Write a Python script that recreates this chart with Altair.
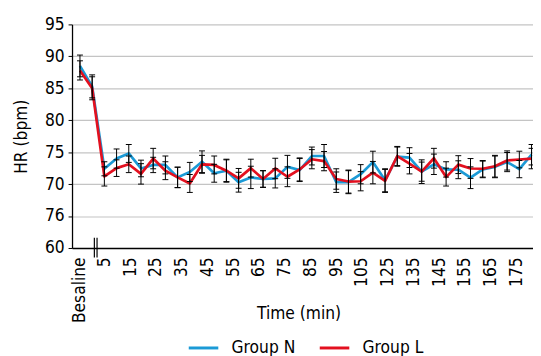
import altair as alt
import pandas as pd

# ---- data ----
slots = list(range(38))  # 0 = Besaline, 1 = break, 2 = 5 min, 3 = 10 min, ...

hr_group_n = [88.5, 85.3, 72.4, 74.0, 74.8, 72.45, 73.0, 73.0, 71.05, 71.9,
              73.5, 71.7, 72.1, 70.3, 71.05, 70.8, 70.9, 72.7, 72.2, 74.4,
              74.4, 70.3, 70.3, 71.55, 73.45, 70.6, 74.3, 74.15, 71.95, 73.1,
              72.3, 72.25, 71.0, 72.3, 72.7, 73.45, 72.35, 74.6]
hr_group_l = [87.8, 85.0, 71.2, 72.5, 73.1, 71.6, 74.0, 72.1, 71.05, 70.1,
              73.1, 73.0, 72.1, 70.9, 72.5, 70.8, 72.45, 71.15, 72.3, 73.9,
              73.6, 70.8, 70.4, 70.45, 71.8, 70.5, 74.4, 73.2, 71.95, 74.05,
              71.1, 73.05, 72.45, 72.4, 72.8, 73.7, 73.85, 74.0]
sd_group_n = [1.7, 1.8, 1.1, 1.5, 1.4, 1.3, 1.2, 1.4, 1.6, 1.5,
              1.7, 1.4, 1.8, 1.55, 1.75, 1.3, 1.5, 1.8, 1.8, 1.4,
              1.8, 1.6, 1.8, 1.5, 1.7, 1.8, 1.5, 1.55, 1.5, 1.6,
              1.2, 1.4, 1.7, 1.3, 1.7, 1.5, 1.35, 1.6]
sd_group_l = [1.5, 1.8, 1.5, 1.3, 1.3, 1.6, 1.6, 1.4, 1.6, 1.4,
              1.4, 1.4, 1.7, 1.55, 1.4, 1.3, 1.6, 1.55, 1.8, 1.5,
              1.5, 1.6, 1.8, 1.5, 1.75, 1.8, 1.5, 1.6, 1.85, 1.55,
              1.4, 1.4, 1.55, 1.3, 1.7, 1.5, 1.3, 1.6]

tick_labels = ["Besaline", "5", "15", "25", "35", "45", "55", "65", "75", "85",
               "95", "105", "125", "135", "145", "155", "165", "175"]
y_tick_values = [60, 65, 70, 75, 80, 85, 90, 95]
y_tick_labels = ["60", "76", "70", "75", "80", "85", "90", "95"]

groups = ["Group N", "Group L"]
colors = ["#1b9ad6", "#e3101f"]

# axis-break marker position (slot units) and its vertical extent (bpm units)
break_slots = [1.18, 1.40]
break_lo, break_hi = 58.5, 61.6

FONT = "DejaVu Sans Condensed, DejaVu Sans, sans-serif"
FS = 17.5

# ---- build tables ----
tick_pos = [0.0] + [round(2 + 2.11 * k, 2) for k in range(len(tick_labels) - 1)]

rows = []
for g, vals, sds in (("Group N", hr_group_n, sd_group_n),
                     ("Group L", hr_group_l, sd_group_l)):
    for s, v, e in zip(slots, vals, sds):
        rows.append({"slot": s, "group": g, "hr": v,
                     "lo": round(v - e, 3), "hi": round(v + e, 3)})
df = pd.DataFrame(rows)
break_df = pd.DataFrame({"slot": break_slots,
                         "lo": [break_lo] * len(break_slots),
                         "hi": [break_hi] * len(break_slots)})

x_label_expr = ("[" + ",".join(f"'{t}'" for t in tick_labels) + "][indexof(["
                + ",".join(str(p) for p in tick_pos) + "], datum.value)]")
y_label_expr = ("[" + ",".join(f"'{t}'" for t in y_tick_labels) + "][indexof(["
                + ",".join(str(v) for v in y_tick_values) + "], datum.value)]")

x_scale = alt.Scale(domain=[-0.65, 37.12], nice=False, zero=False)
y_scale = alt.Scale(domain=[60, 95], nice=False, zero=False)

x_axis = alt.Axis(values=tick_pos, labelExpr=x_label_expr, title="Time (min)",
                  grid=False, ticks=False, tickSize=0, labelAngle=270,
                  labelPadding=9, labelOverlap=False, labelFlush=False,
                  domainColor="black", domainWidth=1.3,
                  titleY=67, titleX=230, titleBaseline="middle", titleAlign="center")
y_axis = alt.Axis(values=y_tick_values, labelExpr=y_label_expr, title="HR (bpm)",
                  grid=True, gridColor="#c4c4c4", gridWidth=1.2,
                  tickSize=4, tickColor="black", labelPadding=4,
                  domainColor="black", domainWidth=1.3, labelOverlap=False,
                  titleX=-51, titleBaseline="middle", titleAlign="center")

x_enc = alt.X("slot:Q", scale=x_scale, axis=x_axis)
color_enc = alt.Color("group:N", scale=alt.Scale(domain=groups, range=colors),
                      legend=alt.Legend(title=None, orient="none", legendX=117, legendY=312,
                                        direction="horizontal", symbolType="stroke",
                                        symbolStrokeWidth=3, symbolSize=900,
                                        labelFontSize=FS, labelOffset=12,
                                        columnPadding=18, padding=0, labelColor="black"))

line_n = alt.Chart(df[df.group == "Group N"]).mark_line(strokeWidth=2.7, strokeJoin="round").encode(
    x=x_enc, y=alt.Y("hr:Q", scale=y_scale, axis=y_axis), color=color_enc)
line_l = alt.Chart(df[df.group == "Group L"]).mark_line(strokeWidth=2.7, strokeJoin="round").encode(
    x=x_enc, y=alt.Y("hr:Q", scale=y_scale, axis=y_axis), color=color_enc)

err_rule = alt.Chart(df).mark_rule(color="black", strokeWidth=1).encode(
    x=x_enc, y=alt.Y("lo:Q", scale=y_scale, axis=y_axis), y2="hi:Q")
err_lo = alt.Chart(df).mark_tick(color="black", orient="horizontal", size=6,
                                 thickness=1, opacity=1).encode(
    x=x_enc, y=alt.Y("lo:Q", scale=y_scale, axis=y_axis))
err_hi = alt.Chart(df).mark_tick(color="black", orient="horizontal", size=6,
                                 thickness=1, opacity=1).encode(
    x=x_enc, y=alt.Y("hi:Q", scale=y_scale, axis=y_axis))

brk = alt.Chart(break_df).mark_rule(color="black", strokeWidth=1.2).encode(
    x=x_enc, y=alt.Y("lo:Q", scale=y_scale, axis=y_axis), y2="hi:Q")

chart = alt.layer(line_n, line_l, err_rule, err_lo, err_hi, brk).properties(
    width=468, height=227,
    autosize=alt.AutoSizeParams(type="none"),
    padding={"left": 65, "top": 14, "right": 0, "bottom": 107},
).configure(font=FONT).configure_view(stroke=None).configure_axis(
    labelFontSize=FS, titleFontSize=FS, titleFontWeight="normal",
    labelColor="black", titleColor="black", labelFont=FONT, titleFont=FONT,
).configure_legend(labelFont=FONT)

chart.save("out.html", embed_options={"renderer": "svg", "actions": False})
